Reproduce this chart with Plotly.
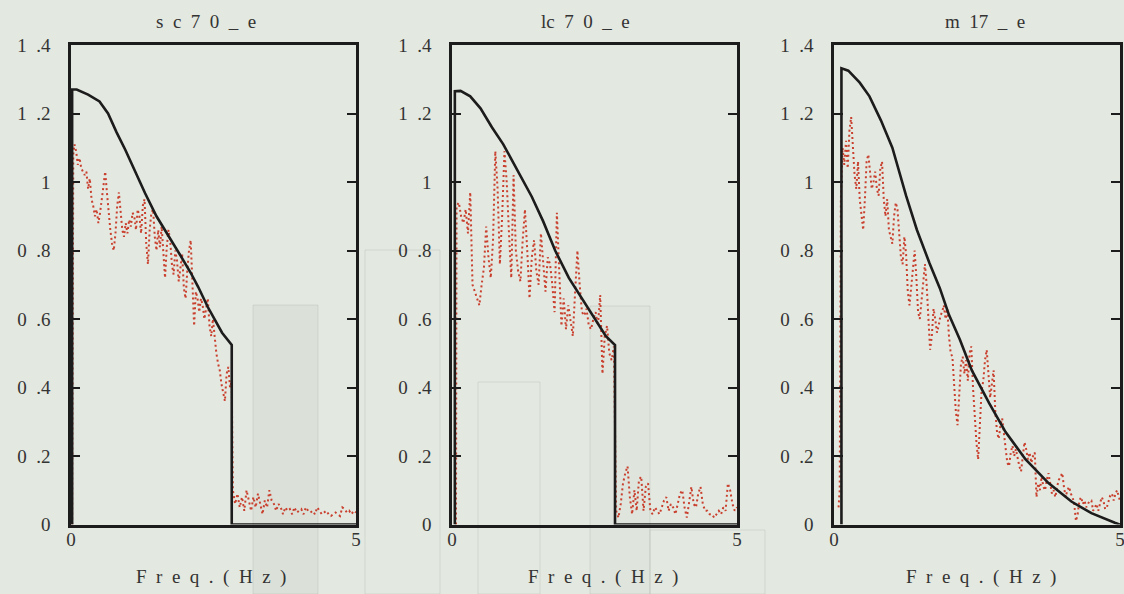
import plotly.graph_objects as go

# ---------------- data ----------------
panel_titles = ["s\u2002c\u20027\u20020\u2002_\u2002e", "lc\u20027\u20020\u2002_\u2002e", "m\u200217\u2002_\u2002e"]
x_title = "F\u2002r\u2002e\u2002q\u2002.\u2002(\u2002H\u2002z\u2002)"
y_tickvals = [0, 0.2, 0.4, 0.6, 0.8, 1.0, 1.2, 1.4]
y_ticktext = ["0", "0\u2002.2", "0\u2002.4", "0\u2002.6", "0\u2002.8", "1", "1\u2002.2", "1\u2002.4"]
x_tickvals = [0, 5]
x_ticktext = ["0", "5"]

# panel 1 : sc70_e
sc70_black_f = [0.02, 0.02, 0.10, 0.30, 0.50, 0.65, 0.80, 0.95, 1.10, 1.30, 1.50, 1.65, 1.80, 1.94,
                2.10, 2.23, 2.40, 2.53, 2.65, 2.82, 2.82, 5.00]
sc70_black_a = [0.00, 1.27, 1.27, 1.255, 1.235, 1.20, 1.145, 1.095, 1.04, 0.967, 0.90, 0.86, 0.82, 0.78,
                0.735, 0.694, 0.635, 0.597, 0.56, 0.524, 0.00, 0.00]
sc70_red_f = [0.02, 0.04, 0.06, 0.09, 0.12, 0.15, 0.18, 0.21, 0.24, 0.27, 0.30, 0.33, 0.36, 0.39, 0.42,
              0.45, 0.48, 0.51, 0.54, 0.57, 0.60, 0.63, 0.66, 0.69, 0.72, 0.75, 0.78, 0.81, 0.84, 0.87,
              0.90, 0.93, 0.96, 0.99, 1.02, 1.05, 1.08, 1.11, 1.14, 1.17, 1.20, 1.23, 1.26, 1.29, 1.32,
              1.35, 1.38, 1.41, 1.44, 1.47, 1.50, 1.53, 1.56, 1.59, 1.62, 1.65, 1.68, 1.71, 1.74, 1.77,
              1.80, 1.83, 1.86, 1.89, 1.92, 1.95, 1.98, 2.01, 2.04, 2.07, 2.10, 2.13, 2.16, 2.19, 2.22,
              2.25, 2.28, 2.31, 2.34, 2.37, 2.40, 2.43, 2.46, 2.49, 2.52, 2.55, 2.58, 2.61, 2.64, 2.67,
              2.70, 2.73, 2.76, 2.79, 2.82,
              2.84, 2.88, 2.92, 2.96, 3.00, 3.04, 3.08, 3.12, 3.16, 3.20, 3.24, 3.28, 3.32, 3.36, 3.40,
              3.44, 3.48, 3.52, 3.56, 3.60, 3.64, 3.68, 3.72, 3.76, 3.80, 3.84, 3.88, 3.92, 3.96, 4.00,
              4.04, 4.08, 4.12, 4.16, 4.20, 4.24, 4.28, 4.32, 4.36, 4.40, 4.44, 4.48, 4.52, 4.56, 4.60,
              4.64, 4.68, 4.72, 4.76, 4.80, 4.84, 4.88, 4.92, 4.96, 5.00]
sc70_red_a = [0.00, 1.08, 1.11, 1.09, 1.05, 1.07, 1.04, 1.03, 1.02, 1.03, 0.98, 1.01, 0.95, 0.93, 0.90,
              0.92, 0.88, 0.91, 0.95, 1.00, 1.03, 0.97, 0.90, 0.86, 0.82, 0.80, 0.85, 0.93, 0.97, 0.92,
              0.86, 0.84, 0.88, 0.85, 0.89, 0.87, 0.91, 0.90, 0.86, 0.92, 0.90, 0.85, 0.93, 0.95, 0.82,
              0.76, 0.86, 0.91, 0.92, 0.84, 0.80, 0.86, 0.81, 0.87, 0.78, 0.72, 0.81, 0.86, 0.83, 0.76,
              0.73, 0.80, 0.77, 0.71, 0.75, 0.79, 0.69, 0.66, 0.74, 0.80, 0.83, 0.70, 0.58, 0.68, 0.66,
              0.62, 0.66, 0.64, 0.60, 0.63, 0.66, 0.58, 0.55, 0.60, 0.54, 0.50, 0.47, 0.45, 0.41, 0.38,
              0.36, 0.44, 0.46, 0.40, 0.42,
              0.10, 0.06, 0.09, 0.05, 0.08, 0.04, 0.10, 0.07, 0.04, 0.08, 0.05, 0.09, 0.06, 0.03, 0.07,
              0.05, 0.10, 0.07, 0.06, 0.04, 0.06, 0.05, 0.03, 0.05, 0.04, 0.045, 0.03, 0.05, 0.035, 0.04,
              0.045, 0.03, 0.05, 0.04, 0.035, 0.04, 0.03, 0.05, 0.04, 0.03, 0.035, 0.04, 0.03, 0.025, 0.03,
              0.035, 0.03, 0.025, 0.05, 0.045, 0.035, 0.04, 0.03, 0.04, 0.035]

# panel 2 : lc70_e
lc70_black_f = [0.05, 0.05, 0.15, 0.32, 0.50, 0.70, 0.90, 1.15, 1.40, 1.60, 1.81, 2.05, 2.33, 2.54,
                2.70, 2.86, 2.86, 5.00]
lc70_black_a = [0.00, 1.265, 1.266, 1.25, 1.215, 1.16, 1.11, 1.035, 0.957, 0.885, 0.80, 0.72, 0.646, 0.59,
                0.55, 0.524, 0.00, 0.00]
lc70_red_f = [0.07, 0.08, 0.12, 0.16, 0.20, 0.24, 0.28, 0.32, 0.36, 0.40, 0.44, 0.48, 0.52, 0.56, 0.60,
              0.64, 0.68, 0.72, 0.76, 0.80, 0.84, 0.88, 0.92, 0.96, 1.00, 1.04, 1.08, 1.12, 1.16, 1.20,
              1.24, 1.28, 1.32, 1.36, 1.40, 1.44, 1.48, 1.52, 1.56, 1.60, 1.64, 1.68, 1.72, 1.76, 1.80,
              1.84, 1.88, 1.92, 1.96, 2.00, 2.04, 2.08, 2.12, 2.16, 2.20, 2.24, 2.28, 2.32, 2.36, 2.40,
              2.44, 2.48, 2.52, 2.56, 2.60, 2.64, 2.68, 2.72, 2.76, 2.80, 2.84,
              2.88, 2.92, 2.96, 3.00, 3.04, 3.08, 3.12, 3.16, 3.20, 3.24, 3.28, 3.32, 3.36, 3.40, 3.44,
              3.48, 3.52, 3.56, 3.60, 3.64, 3.68, 3.72, 3.76, 3.80, 3.84, 3.88, 3.92, 3.96, 4.00, 4.04,
              4.08, 4.12, 4.16, 4.20, 4.24, 4.28, 4.32, 4.36, 4.40, 4.44, 4.48, 4.52, 4.56, 4.60, 4.64,
              4.68, 4.72, 4.76, 4.80, 4.84, 4.88, 4.92, 4.96, 5.00]
lc70_red_a = [0.00, 0.93, 0.94, 0.90, 0.88, 0.92, 0.85, 0.97, 0.70, 0.68, 0.66, 0.64, 0.70, 0.75, 0.87,
              0.78, 0.72, 0.83, 1.09, 0.98, 0.76, 0.90, 1.09, 1.00, 0.85, 0.72, 1.02, 0.80, 0.74, 0.71,
              0.83, 0.92, 0.80, 0.66, 0.78, 0.83, 0.74, 0.70, 0.85, 0.76, 0.68, 0.78, 0.76, 0.70, 0.62,
              0.91, 0.75, 0.58, 0.66, 0.57, 0.64, 0.60, 0.55, 0.68, 0.80, 0.70, 0.62, 0.61, 0.63, 0.58,
              0.57, 0.60, 0.62, 0.58, 0.67, 0.44, 0.55, 0.58, 0.50, 0.48, 0.52,
              0.04, 0.02, 0.06, 0.12, 0.15, 0.17, 0.08, 0.03, 0.10, 0.04, 0.13, 0.14, 0.04, 0.11, 0.12,
              0.04, 0.03, 0.05, 0.04, 0.03, 0.05, 0.07, 0.08, 0.04, 0.06, 0.05, 0.03, 0.06, 0.09, 0.10,
              0.05, 0.02, 0.07, 0.11, 0.06, 0.05, 0.09, 0.11, 0.06, 0.04, 0.04, 0.03, 0.03, 0.02, 0.03,
              0.04, 0.03, 0.05, 0.04, 0.12, 0.10, 0.06, 0.04, 0.05]

# panel 3 : m17_e
m17_black_f = [0.13, 0.13, 0.25, 0.45, 0.62, 0.82, 1.02, 1.26, 1.45, 1.67, 1.85, 2.01, 2.20, 2.41,
               2.71, 3.00, 3.35, 3.75, 4.15, 4.50, 4.91, 5.00]
m17_black_a = [0.00, 1.332, 1.325, 1.29, 1.25, 1.18, 1.10, 0.96, 0.86, 0.763, 0.69, 0.612, 0.54, 0.45,
               0.355, 0.27, 0.19, 0.121, 0.067, 0.033, 0.005, 0.00]
m17_red_f = [0.08, 0.10, 0.12, 0.15, 0.18, 0.21, 0.24, 0.27, 0.30, 0.33, 0.36, 0.39, 0.42, 0.45, 0.48,
             0.51, 0.54, 0.57, 0.60, 0.63, 0.66, 0.69, 0.72, 0.75, 0.78, 0.81, 0.84, 0.87, 0.90, 0.93,
             0.96, 0.99, 1.02, 1.05, 1.08, 1.11, 1.14, 1.17, 1.20, 1.23, 1.26, 1.29, 1.32, 1.35, 1.38,
             1.41, 1.44, 1.47, 1.50, 1.53, 1.56, 1.59, 1.62, 1.65, 1.68, 1.71, 1.74, 1.77, 1.80, 1.83,
             1.86, 1.89, 1.92, 1.95, 1.98, 2.01, 2.04, 2.07, 2.10, 2.13, 2.16, 2.19, 2.22, 2.25, 2.28,
             2.31, 2.34, 2.37, 2.40, 2.43, 2.46, 2.49, 2.52, 2.55, 2.58, 2.61, 2.64, 2.67, 2.70, 2.73,
             2.76, 2.79, 2.82, 2.85, 2.88, 2.91, 2.94, 2.97, 3.00, 3.03, 3.06, 3.09, 3.12, 3.15, 3.18,
             3.21, 3.24, 3.27, 3.30, 3.33, 3.36, 3.39, 3.42, 3.45, 3.48, 3.51, 3.54, 3.57, 3.60, 3.63,
             3.66, 3.69, 3.72, 3.75, 3.78, 3.81, 3.84, 3.87, 3.90, 3.93, 3.96, 3.99, 4.02, 4.05, 4.08,
             4.11, 4.14, 4.17, 4.20, 4.23, 4.26, 4.29, 4.32, 4.35, 4.38, 4.41, 4.44, 4.47, 4.50, 4.53,
             4.56, 4.59, 4.62, 4.65, 4.68, 4.71, 4.74, 4.77, 4.80, 4.83, 4.86, 4.89, 4.92, 4.95, 4.98,
             5.00]
m17_red_a = [0.05, 0.10, 0.95, 1.10, 1.05, 1.12, 1.04, 1.15, 1.19, 1.10, 1.02, 0.98, 1.06, 0.95, 0.90,
             0.86, 0.95, 1.06, 1.08, 1.02, 0.98, 1.00, 1.03, 0.98, 0.96, 1.04, 1.06, 0.95, 0.90, 0.95,
             0.86, 0.84, 0.82, 0.90, 0.94, 0.92, 0.85, 0.78, 0.76, 0.84, 0.79, 0.68, 0.64, 0.70, 0.76,
             0.80, 0.72, 0.62, 0.60, 0.66, 0.72, 0.76, 0.70, 0.58, 0.51, 0.55, 0.63, 0.60, 0.56, 0.58,
             0.61, 0.62, 0.64, 0.60, 0.63, 0.55, 0.50, 0.49, 0.40, 0.33, 0.29, 0.38, 0.47, 0.49, 0.44,
             0.48, 0.42, 0.50, 0.52, 0.40, 0.30, 0.24, 0.19, 0.28, 0.39, 0.42, 0.48, 0.51, 0.44, 0.37,
             0.41, 0.45, 0.33, 0.27, 0.25, 0.29, 0.31, 0.26, 0.22, 0.18, 0.17, 0.21, 0.23, 0.20, 0.22,
             0.19, 0.17, 0.155, 0.20, 0.24, 0.22, 0.19, 0.21, 0.18, 0.20, 0.21, 0.08, 0.12, 0.10, 0.14,
             0.11, 0.10, 0.13, 0.15, 0.12, 0.09, 0.10, 0.08, 0.11, 0.13, 0.14, 0.15, 0.11, 0.08, 0.10,
             0.11, 0.09, 0.08, 0.06, 0.01, 0.03, 0.07, 0.08, 0.06, 0.07, 0.05, 0.06, 0.07, 0.07, 0.04,
             0.05, 0.06, 0.04, 0.06, 0.08, 0.07, 0.045, 0.05, 0.07, 0.085, 0.09, 0.07, 0.09, 0.10, 0.08,
             0.07]

panels = [
    (sc70_black_f, sc70_black_a, sc70_red_f, sc70_red_a),
    (lc70_black_f, lc70_black_a, lc70_red_f, lc70_red_a),
    (m17_black_f, m17_black_a, m17_red_f, m17_red_a),
]

# ---------------- style / layout ----------------
W, H = 1124, 594
BG = "#e3e8e0"
INK = "#1c1c1c"
TXT = "#333333"
RED = "#c9402f"
FONT = "Liberation Serif"

x_dom_px = [(71, 356), (452, 737), (834, 1120)]
title_cx_px = [206, 585, 985]
xtitle_cx_px = [211, 603, 981]
y_top_px, y_bot_px = 45, 524.5
y_dom = [1 - y_bot_px / H, 1 - y_top_px / H]

fig = go.Figure()
for i, (bf, ba, rf, ra) in enumerate(panels):
    n = "" if i == 0 else str(i + 1)
    fig.add_trace(go.Scatter(x=rf, y=ra, mode="lines", xaxis="x" + n, yaxis="y" + n,
                             line=dict(color=RED, width=2, dash="2px,3px"),
                             showlegend=False, hoverinfo="skip"))
    fig.add_trace(go.Scatter(x=bf, y=ba, mode="lines", xaxis="x" + n, yaxis="y" + n,
                             line=dict(color=INK, width=2.6),
                             showlegend=False, hoverinfo="skip"))
    x0, x1 = x_dom_px[i]
    fig.layout["xaxis" + n] = dict(
        domain=[x0 / W, x1 / W], anchor="y" + n, range=[0, 5], automargin=False,
        showline=True, mirror=True, linecolor=INK, linewidth=2.5,
        showgrid=False, zeroline=False, ticks="",
        tickvals=x_tickvals, ticktext=x_ticktext, ticklabeloverflow="allow",
        tickfont=dict(family=FONT, size=19, color=TXT), ticklabelstandoff=-4,
    )
    fig.layout["yaxis" + n] = dict(
        domain=y_dom, anchor="x" + n, range=[0, 1.4], automargin=False,
        showline=True, mirror="allticks", linecolor=INK, linewidth=2.5,
        showgrid=False, zeroline=False, ticks="inside", ticklen=9, tickwidth=2, tickcolor=INK,
        tickvals=y_tickvals, ticktext=y_ticktext, ticklabeloverflow="allow",
        tickfont=dict(family=FONT, size=19, color=TXT), ticklabelstandoff=14,
    )
    fig.add_annotation(text=panel_titles[i], x=title_cx_px[i] / W, y=1 - 22 / H,
                       xref="paper", yref="paper", xanchor="center", yanchor="middle",
                       showarrow=False, font=dict(family=FONT, size=19, color=TXT))
    fig.add_annotation(text=x_title, x=xtitle_cx_px[i] / W, y=1 - 577 / H,
                       xref="paper", yref="paper", xanchor="center", yanchor="middle",
                       showarrow=False, font=dict(family=FONT, size=19, color=TXT))

# faint scan bleed-through marks in the background
ghost = "rgba(150,160,150,0.22)"
for (gx0, gy0, gx1, gy1, fill) in [
    (253, 305, 318, 594, "rgba(170,178,170,0.13)"),
    (365, 250, 440, 594, "rgba(0,0,0,0)"),
    (478, 382, 540, 594, "rgba(0,0,0,0)"),
    (590, 306, 650, 594, "rgba(170,178,170,0.07)"),
    (650, 530, 765, 594, "rgba(0,0,0,0)"),
]:
    fig.add_shape(type="rect", xref="paper", yref="paper", layer="below",
                  x0=gx0 / W, x1=gx1 / W, y0=1 - gy1 / H, y1=1 - gy0 / H,
                  line=dict(color=ghost, width=1), fillcolor=fill)

fig.update_layout(width=W, height=H, margin=dict(l=0, r=0, t=0, b=0, pad=0),
                  paper_bgcolor=BG, plot_bgcolor=BG)

fig.write_html("out.html", config={"displayModeBar": False},
               post_script="document.body.style.margin='0';document.body.style.background='#e3e8e0';")
